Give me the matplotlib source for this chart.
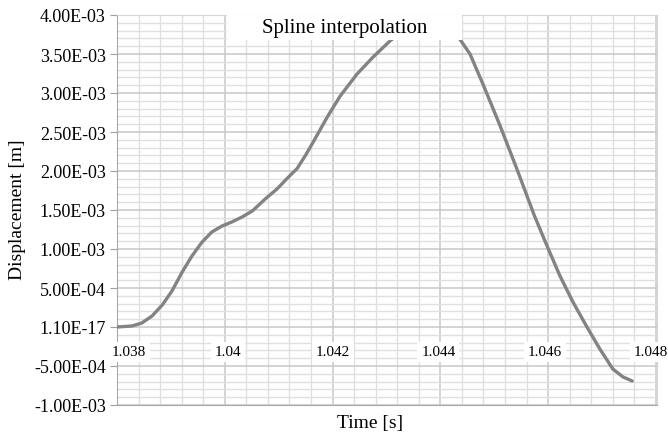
import matplotlib
matplotlib.use("Agg")
import matplotlib.pyplot as plt
from matplotlib.patches import Rectangle
from matplotlib.ticker import MultipleLocator, FixedLocator
import numpy as np

# Spline-interpolated displacement vs time
time_s = [1.03800, 1.03828, 1.03846, 1.03865, 1.03884, 1.03902, 1.03921,
          1.03939, 1.03958, 1.03976, 1.03995, 1.04013, 1.04032, 1.04051,
          1.04075, 1.04097, 1.04115, 1.04134, 1.04149, 1.04164, 1.04190,
          1.04214, 1.04245, 1.04275, 1.04307, 1.04340, 1.04380, 1.04415,
          1.04436, 1.04455, 1.04479, 1.04511, 1.04542, 1.04574, 1.04598,
          1.04622, 1.04646, 1.04672, 1.04696, 1.04720, 1.04739, 1.04756]
disp_m = [0.0, 0.000013, 0.000051, 0.000141, 0.000282, 0.000462, 0.000705,
          0.000910, 0.001090, 0.001218, 0.001295, 0.001346, 0.001410,
          0.001487, 0.001641, 0.00177, 0.00190, 0.00203, 0.002192, 0.00237,
          0.00269, 0.00296, 0.00324, 0.00346, 0.00367, 0.00385, 0.00398,
          0.00390, 0.003692, 0.003500, 0.003115, 0.002577, 0.002026,
          0.001436, 0.001038, 0.000654, 0.000321, 0.0, -0.000282,
          -0.000538, -0.000641, -0.000692]

x_ticks = [1.038, 1.040, 1.042, 1.044, 1.046, 1.048]
x_tick_labels = ["1.038", "1.04", "1.042", "1.044", "1.046", "1.048"]
y_ticks = [-0.001, -0.0005, 0.0, 0.0005, 0.001, 0.0015, 0.002, 0.0025,
           0.003, 0.0035, 0.004]
y_tick_labels = ["-1.00E-03", "-5.00E-04", "1.10E-17", "5.00E-04",
                 "1.00E-03", "1.50E-03", "2.00E-03", "2.50E-03",
                 "3.00E-03", "3.50E-03", "4.00E-03"]

plt.rcParams["font.family"] = ["Liberation Serif", "DejaVu Serif"]

fig = plt.figure(figsize=(6.68, 4.35), dpi=100)
ax = fig.add_axes([117 / 668, 1 - 406 / 435, 540 / 668, 390 / 435])

ax.set_xlim(1.038, 1.04802)
ax.set_ylim(-0.001, 0.004)

# grid: major + minor, both directions
ax.xaxis.set_major_locator(FixedLocator(x_ticks))
ax.xaxis.set_minor_locator(MultipleLocator(0.0004))
ax.yaxis.set_major_locator(FixedLocator(y_ticks))
ax.yaxis.set_minor_locator(MultipleLocator(0.0001))
ax.grid(which="major", color="#c8c8c8", linewidth=1.1)
ax.grid(which="minor", color="#e0e0e0", linewidth=1.0)
ax.set_axisbelow(True)

ax.set_yticklabels(y_tick_labels, fontsize=13)
ax.tick_params(axis="y", which="major", length=5, color="#a0a0a0", pad=3)
ax.tick_params(axis="y", which="minor", length=0)
ax.tick_params(axis="x", which="both", length=0, labelbottom=False)

for side in ["top", "right"]:
    ax.spines[side].set_color("#d5d5d5")
for side in ["left", "bottom"]:
    ax.spines[side].set_color("#a8a8a8")

ax.plot(time_s, disp_m, color="#838383", linewidth=2.4, zorder=3,
        solid_capstyle="round", solid_joinstyle="round")

# x labels sit just under the zero line, on white
nudges = [12, 3, 0, -2, -3, -5]
for t, lab, dx in zip(x_ticks, x_tick_labels, nudges):
    ax.annotate(lab, xy=(t, 0), xytext=(dx, -25), textcoords="offset pixels",
                ha="center", va="center", fontsize=11, zorder=4,
                bbox=dict(boxstyle="square,pad=0.25", fc="white", ec="none"))

# title box inside the plot area
ax.add_patch(Rectangle((0.2037, 0.936), 0.435, 0.064, transform=ax.transAxes,
                       facecolor="white", edgecolor="none", zorder=5))
ax.text(0.4222, 0.969, "Spline interpolation", transform=ax.transAxes,
        ha="center", va="center", fontsize=15, zorder=6)

fig.text(370 / 668, 1 - 424 / 435, "Time [s]", ha="center", va="center",
         fontsize=14)
fig.text(18 / 668, 1 - 210 / 435, "Displacement [m]", ha="center",
         va="center", rotation=90, fontsize=14)

fig.savefig("out.png", dpi=100)
